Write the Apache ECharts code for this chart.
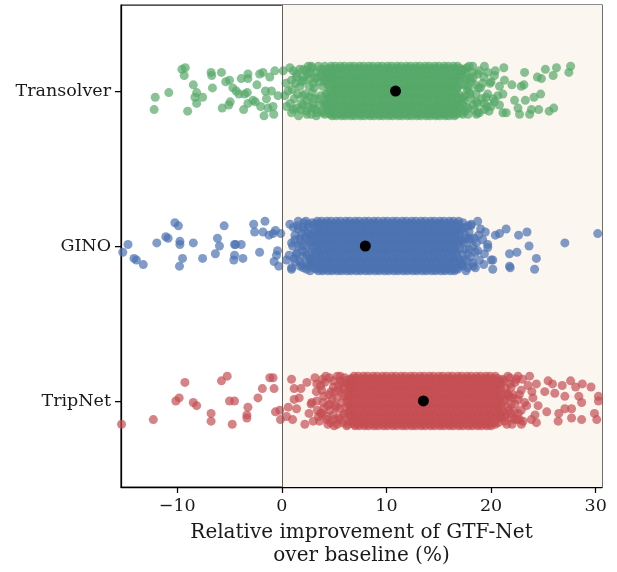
<!DOCTYPE html>
<html><head><meta charset="utf-8">
<script src="https://cdn.jsdelivr.net/npm/echarts@6/dist/echarts.min.js"></script>
<style>html,body{margin:0;padding:0;background:#fff}#c{width:617px;height:572px}</style>
</head><body><div id="c"></div>
<script>
const categories = ['Transolver', 'GINO', 'TripNet'];
const colors = ['#55a868', '#4c72b0', '#c44e52'];
const means = [10.87, 7.98, 13.53];
const xTicks = [-10, 0, 10, 20, 30];
const yTicks = [0, 1, 2];
const xMin = -15.37, xMax = 30.6;
const yMin = -0.555, yMax = 2.555;
const axisTitle = 'Relative improvement of GTF-Net\nover baseline (%)';

// Scattered points: [value, jitter offset]
const transolverPts = [
[-15.4,0.09],[-12.1,0.04],[-12.2,0.12],[-10.8,0.01],[-9.55,-0.14],[-9.23,-0.15],[-9.33,-0.10],[-9.0,0.13],[-8.46,-0.04],[-8.14,0.01],[-8.3,0.04],[-7.57,0.04],[-8.14,0.08],[-6.76,-0.12],[-6.7,-0.10],[-5.77,-0.12],[-6.63,-0.02],[-5.36,-0.06],[-5.0,-0.07],[-5.7,0.11],[-5.07,0.09],[-4.93,0.07],[-4.68,-0.02],[-4.36,0.0],[-4.1,0.02],[-3.88,-0.08],[-3.24,-0.11],[-3.24,-0.08],[-3.56,0.02],[-3.3,0.01],[-3.65,0.12],[-3.24,0.08],[-2.76,0.06],[-2.53,0.07],[-2.38,-0.04],[-2.12,-0.11],[-1.8,-0.12],[-1.57,0.0],[-0.99,0.0],[-1.15,-0.09],[-1.47,0.05],[-2.02,0.10],[-1.7,0.16],[-1.32,0.11],[-0.77,0.15],[-0.84,0.10],[-0.67,-0.13],[-0.36,0.03],
[0.13,-0.13],[0.29,0.03],[0.77,-0.15],[1.09,-0.13],[0.93,-0.07],[1.41,-0.11],[1.73,-0.03],[2.05,-0.14],[2.53,-0.16],[2.69,-0.08],[0.45,0.10],[0.93,0.14],[1.41,0.11],[2.05,0.09],[2.69,0.04],[0.6,0.0],[1.2,0.05],[1.9,-0.06],[2.3,0.13],[1.6,0.16],[2.2,0.02],[0.4,-0.05],[1.0,-0.01],
[2.9,-0.15],[3.3,-0.12],[3.6,-0.06],[3.1,-0.02],[3.5,0.05],[3.0,0.09],[3.8,0.13],[2.8,0.15],[3.9,-0.09],[4.1,-0.16],[4.2,0.02],[3.7,-0.14],[4.0,0.08],[2.6,-0.03],[2.4,0.06],[3.3,0.16],[1.3,-0.05],[0.8,0.08],[1.8,0.12],[2.0,-0.09],[2.9,0.11],[3.4,-0.09],[4.1,0.15],[2.5,-0.11],[1.5,0.02],
[1.7,-0.14],[2.1,-0.07],[2.4,0.15],[2.7,-0.12],[2.9,0.01],[3.2,0.12],[3.5,-0.16],[3.6,0.09],[3.9,-0.03],[4.0,0.14],[4.2,-0.11],[4.3,0.06],[3.2,-0.08],[2.6,0.10],[1.9,0.08],[2.3,-0.13],[3.0,-0.05],[3.7,0.03],[4.1,-0.06],[2.0,0.03],[1.4,-0.09],[1.1,0.12],[3.4,0.14],[2.8,-0.16],[3.8,-0.11],[4.4,0.12],[4.0,-0.14],[3.1,0.05],
[17.2,-0.13],[17.4,0.06],[17.6,-0.07],[17.8,0.11],[17.9,0.0],[18.2,-0.12],[18.3,0.09],[18.5,-0.04],[18.7,0.14],[19.1,0.05],[19.3,-0.09],[19.6,0.10],[17.3,0.15],[17.7,-0.15],[18.0,-0.08],[18.8,-0.02],[19.9,-0.05],[20.2,0.05],[17.5,0.03],[18.6,0.07],
[18.24,-0.16],[19.36,-0.16],[21.22,-0.15],[18.72,-0.11],[19.68,-0.12],[20.32,-0.10],[19.2,-0.05],[20.0,-0.06],[20.8,-0.03],[21.28,-0.07],[18.56,0.02],[19.68,0.02],[20.64,0.03],[21.13,0.02],[18.72,0.08],[19.36,0.08],[20.0,0.10],[18.88,0.14],[19.36,0.12],[20.32,0.07],[20.8,0.09],[17.76,-0.03],[17.6,0.10],[18.08,0.05],[17.4,-0.14],[17.5,-0.09],[17.8,0.15],[17.3,0.04],[18.1,-0.06],[17.6,-0.12],[18.4,0.12],
[17.2,0.08],[17.9,-0.16],[18.3,-0.09],[18.6,0.15],[19.0,-0.02],[17.5,0.13],[18.0,0.02],[18.9,-0.13],[19.8,0.13],[17.7,-0.01],[20.4,-0.13],[19.5,0.04],
[23.2,-0.12],[24.42,-0.09],[24.81,-0.08],[25.19,-0.14],[25.93,-0.10],[26.25,-0.15],[27.43,-0.12],[27.6,-0.16],[21.99,-0.04],[23.14,-0.04],[22.88,-0.03],[22.24,0.06],[23.27,0.06],[24.1,0.04],[24.74,0.02],[21.13,0.14],[21.44,0.14],[22.57,0.11],[22.72,0.15],[23.85,0.12],[23.68,0.15],[24.55,0.12],[25.55,0.13],[25.99,0.11]
];
// Dense middle of each strip: [jitter offset, values along that band]
const transolverCoreRows = [
[-0.16,[4.7,5.1,5.6,6.0,6.5,6.9,7.4,7.8,8.3,8.7,9.2,9.6,10.1,10.5,11.0,11.4,11.9,12.3,12.8,13.2,13.7,14.1,14.6,15.0,15.5,15.9,16.4,16.8]],
[-0.145,[4.5,4.9,5.4,5.8,6.3,6.7,7.2,7.6,8.1,8.5,9.0,9.4,9.9,10.3,10.8,11.2,11.7,12.1,12.6,13.0,13.5,13.9,14.4,14.8,15.3,15.7,16.2,16.6,17.0]],
[-0.13,[4.3,4.8,5.2,5.7,6.1,6.6,7.0,7.5,7.9,8.4,8.8,9.3,9.7,10.2,10.6,11.1,11.5,12.0,12.4,12.9,13.3,13.8,14.2,14.7,15.1,15.6,16.0,16.5,16.9,17.3]],
[-0.10,[4.5,5.0,5.4,5.9,6.3,6.8,7.2,7.7,8.1,8.6,9.0,9.5,9.9,10.4,10.8,11.3,11.7,12.2,12.6,13.1,13.5,14.0,14.4,14.9,15.3,15.8,16.2,16.7,17.1]],
[-0.085,[4.4,4.8,5.3,5.7,6.2,6.6,7.1,7.5,8.0,8.4,8.9,9.3,9.8,10.2,10.7,11.1,11.6,12.0,12.5,12.9,13.4,13.8,14.3,14.7,15.2,15.6,16.1,16.5,16.9]],
[-0.07,[4.2,4.7,5.1,5.6,6.0,6.5,6.9,7.4,7.8,8.3,8.7,9.2,9.6,10.1,10.5,11.0,11.4,11.9,12.3,12.8,13.2,13.7,14.1,14.6,15.0,15.5,15.9,16.4,16.8]],
[-0.04,[4.4,4.9,5.3,5.8,6.2,6.7,7.1,7.6,8.0,8.5,8.9,9.4,9.8,10.3,10.7,11.2,11.6,12.1,12.5,13.0,13.4,13.9,14.3,14.8,15.2,15.7,16.1,16.6,17.0,17.4]],
[-0.025,[4.6,5.1,5.5,6.0,6.4,6.9,7.3,7.8,8.2,8.7,9.1,9.6,10.0,10.5,10.9,11.4,11.8,12.3,12.7,13.2,13.6,14.1,14.5,15.0,15.4,15.9,16.3,16.8]],
[-0.01,[4.6,5.0,5.5,5.9,6.4,6.8,7.3,7.7,8.2,8.6,9.1,9.5,10.0,10.4,10.9,11.3,11.8,12.2,12.7,13.1,13.6,14.0,14.5,14.9,15.4,15.8,16.3,16.7]],
[0.02,[4.3,4.8,5.2,5.7,6.1,6.6,7.0,7.5,7.9,8.4,8.8,9.3,9.7,10.2,10.6,11.1,11.5,12.0,12.4,12.9,13.3,13.8,14.2,14.7,15.1,15.6,16.0,16.5,16.9]],
[0.035,[4.5,5.0,5.4,5.9,6.3,6.8,7.2,7.7,8.1,8.6,9.0,9.5,9.9,10.4,10.8,11.3,11.7,12.2,12.6,13.1,13.5,14.0,14.4,14.9,15.3,15.8,16.2,16.7]],
[0.05,[4.5,5.0,5.4,5.9,6.3,6.8,7.2,7.7,8.1,8.6,9.0,9.5,9.9,10.4,10.8,11.3,11.7,12.2,12.6,13.1,13.5,14.0,14.4,14.9,15.3,15.8,16.2,16.7,17.2]],
[0.08,[4.2,4.7,5.1,5.6,6.0,6.5,6.9,7.4,7.8,8.3,8.7,9.2,9.6,10.1,10.5,11.0,11.4,11.9,12.3,12.8,13.2,13.7,14.1,14.6,15.0,15.5,15.9,16.4,16.8]],
[0.095,[4.3,4.8,5.2,5.7,6.1,6.6,7.0,7.5,7.9,8.4,8.8,9.3,9.7,10.2,10.6,11.1,11.5,12.0,12.4,12.9,13.3,13.8,14.2,14.7,15.1,15.6,16.0,16.5,16.9]],
[0.11,[4.4,4.9,5.3,5.8,6.2,6.7,7.1,7.6,8.0,8.5,8.9,9.4,9.8,10.3,10.7,11.2,11.6,12.1,12.5,13.0,13.4,13.9,14.3,14.8,15.2,15.7,16.1,16.6,17.0]],
[0.14,[4.6,5.0,5.5,5.9,6.4,6.8,7.3,7.7,8.2,8.6,9.1,9.5,10.0,10.4,10.9,11.3,11.8,12.2,12.7,13.1,13.6,14.0,14.5,14.9,15.4,15.8,16.3,16.7,17.1]],
[0.15,[4.6,5.0,5.5,5.9,6.4,6.8,7.3,7.7,8.2,8.6,9.1,9.5,10.0,10.4,10.9,11.3,11.8,12.2,12.7,13.1,13.6,14.0,14.5,14.9,15.4,15.8,16.3,16.7]],
[0.16,[4.8,5.2,5.7,6.1,6.6,7.0,7.5,7.9,8.4,8.8,9.3,9.7,10.2,10.6,11.1,11.5,12.0,12.4,12.9,13.3,13.8,14.2,14.7,15.1,15.6,16.0,16.5]]
];

const ginoPts = [
[-15.2,0.04],[-14.7,-0.01],[-14.13,0.08],[-13.9,0.09],[-13.24,0.12],[-11.95,-0.02],[-11.09,-0.06],[-10.87,-0.05],[-10.22,-0.15],[-9.88,-0.13],[-9.74,-0.03],[-9.74,-0.01],[-9.49,0.08],[-9.78,0.13],[-8.46,-0.02],[-7.57,0.08],[-6.35,0.05],[-6.15,-0.05],[-5.96,0.0],[-5.51,-0.13],[-4.52,-0.01],[-4.42,-0.01],[-3.88,-0.01],[-4.52,0.06],[-4.59,0.09],[-3.72,0.08],[-2.69,-0.14],[-2.6,-0.09],[-1.61,-0.16],[-1.8,-0.09],[-1.22,-0.07],[-0.84,-0.08],[-0.61,-0.10],[-0.1,-0.08],[-2.12,0.04],[-0.41,0.03],[-0.51,0.06],[-0.74,0.10],[-0.29,0.13],
[0.45,0.09],[0.77,-0.14],[0.93,0.15],[1.25,-0.04],[1.57,-0.11],[1.89,-0.08],[1.41,0.05],[1.73,0.10],[2.05,0.14],[2.37,0.0],[2.53,-0.12],[2.69,0.08],[1.03,0.0],[2.21,-0.05],[2.4,0.12],[2.1,-0.15],
[1.57,-0.16],[2.05,-0.12],[2.53,-0.14],[1.25,-0.07],[1.73,-0.05],[2.37,-0.06],[0.93,-0.02],[1.89,0.0],[2.69,-0.01],[1.41,0.05],[2.05,0.07],[2.69,0.09],[0.93,0.14],[1.73,0.13],[2.37,0.15],[1.25,0.10],[3.0,0.14],[2.85,0.04],[2.21,0.04],
[1.2,0.08],[1.5,-0.13],[1.9,0.12],[2.2,-0.10],[2.4,0.06],[2.6,-0.03],[2.8,0.11],[2.9,-0.15],[2.7,0.16],[2.3,-0.16],[1.6,0.0],[2.0,0.03],[2.5,-0.08],[2.8,-0.07],[2.6,0.13],[1.8,-0.03],[1.1,-0.12],[0.7,0.06],
[17.3,0.06],[17.5,-0.08],[17.7,0.10],[17.9,0.02],[18.1,-0.14],[18.3,0.13],[17.4,-0.02],[18.0,-0.05],[18.5,0.04],[17.6,0.16],[18.8,-0.07],[17.2,-0.11],
[17.43,-0.12],[17.76,0.05],[17.6,-0.05],[18.24,0.0],[18.72,0.03],[19.2,-0.04],[19.36,0.05],[19.68,-0.01],[18.88,0.09],[18.4,-0.05],[17.28,0.13],
[17.3,-0.15],[17.5,0.02],[17.9,-0.09],[18.1,0.07],[17.4,0.09],[18.5,0.14],[19.0,-0.11],[18.6,-0.02],[17.8,-0.13],[19.3,0.12],[17.2,-0.03],
[18.72,-0.16],[18.08,-0.13],[19.45,-0.09],[20.8,-0.08],[21.44,-0.11],[20.41,-0.07],[22.63,-0.07],[23.43,-0.09],[27.05,-0.02],[30.19,-0.08],[17.86,-0.04],[19.68,0.01],[21.76,0.05],[22.47,0.04],[23.63,0.0],[24.33,0.08],[20.16,0.09],[20.0,0.09],[20.16,0.15],[21.76,0.13],[21.83,0.14],[24.16,0.15],[17.76,0.14],[18.24,0.11],[17.12,0.12]
];
const ginoCoreRows = [
[-0.16,[3.4,3.8,4.3,4.7,5.2,5.6,6.1,6.5,7.0,7.4,7.9,8.3,8.8,9.2,9.7,10.1,10.6,11.0,11.5,11.9,12.4,12.8,13.3,13.7,14.2,14.6,15.1,15.5,16.0,16.4,16.9]],
[-0.145,[3.2,3.6,4.1,4.5,5.0,5.4,5.9,6.3,6.8,7.2,7.7,8.1,8.6,9.0,9.5,9.9,10.4,10.8,11.3,11.7,12.2,12.6,13.1,13.5,14.0,14.4,14.9,15.3,15.8,16.2,16.7]],
[-0.13,[3.0,3.5,3.9,4.4,4.8,5.3,5.7,6.2,6.6,7.1,7.5,8.0,8.4,8.9,9.3,9.8,10.2,10.7,11.1,11.6,12.0,12.5,12.9,13.4,13.8,14.3,14.7,15.2,15.6,16.1,16.5,17.0]],
[-0.10,[3.2,3.7,4.1,4.6,5.0,5.5,5.9,6.4,6.8,7.3,7.7,8.2,8.6,9.1,9.5,10.0,10.4,10.9,11.3,11.8,12.2,12.7,13.1,13.6,14.0,14.5,14.9,15.4,15.8,16.3,16.7]],
[-0.085,[3.1,3.5,4.0,4.4,4.9,5.3,5.8,6.2,6.7,7.1,7.6,8.0,8.5,8.9,9.4,9.8,10.3,10.7,11.2,11.6,12.1,12.5,13.0,13.4,13.9,14.3,14.8,15.2,15.7,16.1,16.6,17.0]],
[-0.07,[2.9,3.4,3.8,4.3,4.7,5.2,5.6,6.1,6.5,7.0,7.4,7.9,8.3,8.8,9.2,9.7,10.1,10.6,11.0,11.5,11.9,12.4,12.8,13.3,13.7,14.2,14.6,15.1,15.5,16.0,16.4,16.9]],
[-0.04,[3.1,3.6,4.0,4.5,4.9,5.4,5.8,6.3,6.7,7.2,7.6,8.1,8.5,9.0,9.4,9.9,10.3,10.8,11.2,11.7,12.1,12.6,13.0,13.5,13.9,14.4,14.8,15.3,15.7,16.2,16.6,17.1]],
[-0.025,[3.0,3.4,3.9,4.3,4.8,5.2,5.7,6.1,6.6,7.0,7.5,7.9,8.4,8.8,9.3,9.7,10.2,10.6,11.1,11.5,12.0,12.4,12.9,13.3,13.8,14.2,14.7,15.1,15.6,16.0,16.5,16.9]],
[-0.01,[3.3,3.7,4.2,4.6,5.1,5.5,6.0,6.4,6.9,7.3,7.8,8.2,8.7,9.1,9.6,10.0,10.5,10.9,11.4,11.8,12.3,12.7,13.2,13.6,14.1,14.5,15.0,15.4,15.9,16.3,16.8]],
[0.02,[3.0,3.5,3.9,4.4,4.8,5.3,5.7,6.2,6.6,7.1,7.5,8.0,8.4,8.9,9.3,9.8,10.2,10.7,11.1,11.6,12.0,12.5,12.9,13.4,13.8,14.3,14.7,15.2,15.6,16.1,16.5,17.0]],
[0.035,[3.2,3.6,4.1,4.5,5.0,5.4,5.9,6.3,6.8,7.2,7.7,8.1,8.6,9.0,9.5,9.9,10.4,10.8,11.3,11.7,12.2,12.6,13.1,13.5,14.0,14.4,14.9,15.3,15.8,16.2,16.7]],
[0.05,[3.2,3.7,4.1,4.6,5.0,5.5,5.9,6.4,6.8,7.3,7.7,8.2,8.6,9.1,9.5,10.0,10.4,10.9,11.3,11.8,12.2,12.7,13.1,13.6,14.0,14.5,14.9,15.4,15.8,16.3,16.7]],
[0.08,[2.9,3.4,3.8,4.3,4.7,5.2,5.6,6.1,6.5,7.0,7.4,7.9,8.3,8.8,9.2,9.7,10.1,10.6,11.0,11.5,11.9,12.4,12.8,13.3,13.7,14.2,14.6,15.1,15.5,16.0,16.4,16.9]],
[0.095,[3.0,3.5,3.9,4.4,4.8,5.3,5.7,6.2,6.6,7.1,7.5,8.0,8.4,8.9,9.3,9.8,10.2,10.7,11.1,11.6,12.0,12.5,12.9,13.4,13.8,14.3,14.7,15.2,15.6,16.1,16.5,17.0]],
[0.11,[3.1,3.6,4.0,4.5,4.9,5.4,5.8,6.3,6.7,7.2,7.6,8.1,8.5,9.0,9.4,9.9,10.3,10.8,11.2,11.7,12.1,12.6,13.0,13.5,13.9,14.4,14.8,15.3,15.7,16.2,16.6,17.1]],
[0.14,[3.3,3.7,4.2,4.6,5.1,5.5,6.0,6.4,6.9,7.3,7.8,8.2,8.7,9.1,9.6,10.0,10.5,10.9,11.4,11.8,12.3,12.7,13.2,13.6,14.1,14.5,15.0,15.4,15.9,16.3,16.8]],
[0.15,[3.3,3.8,4.2,4.7,5.1,5.6,6.0,6.5,6.9,7.4,7.8,8.3,8.7,9.2,9.6,10.1,10.5,11.0,11.4,11.9,12.3,12.8,13.2,13.7,14.1,14.6,15.0,15.5,15.9,16.4,16.8]],
[0.16,[3.5,3.9,4.4,4.8,5.3,5.7,6.2,6.6,7.1,7.5,8.0,8.4,8.9,9.3,9.8,10.2,10.7,11.1,11.6,12.0,12.5,12.9,13.4,13.8,14.3,14.7,15.2,15.6,16.1,16.5]]
];

const tripnetPts = [
[-15.32,0.15],[-12.28,0.12],[-10.13,0.0],[-9.81,-0.02],[-9.26,-0.12],[-8.46,0.01],[-8.14,0.03],[-6.76,0.08],[-6.76,0.13],[-5.77,-0.13],[-5.22,-0.16],[-5.0,0.0],[-4.52,0.0],[-4.74,0.15],[-3.24,0.04],[-3.34,0.09],[-3.34,0.11],[-2.28,-0.02],[-1.86,-0.08],[-1.15,-0.15],[-0.84,-0.15],[-0.74,-0.08],[-0.61,0.07],[-0.19,0.06],[-0.13,0.12],
[0.93,-0.14],[1.18,-0.08],[1.83,-0.08],[1.18,-0.01],[1.66,-0.02],[0.61,0.04],[1.41,0.05],[0.45,0.10],[1.03,0.12],[3.17,-0.15],[4.55,-0.15],[5.58,-0.16],[3.34,0.0],[3.72,0.08],[4.68,0.14],[2.4,-0.12],[2.8,0.02],[3.0,0.13],[2.6,0.08],[3.3,-0.06],[2.2,0.15],
[3.34,-0.11],[3.82,-0.07],[4.93,-0.09],[6.22,-0.11],[5.26,-0.02],[3.97,0.01],[6.22,0.0],[3.82,0.08],[4.6,0.06],[5.42,0.11],[5.89,0.09],[6.54,0.06],[6.38,0.13],[4.93,0.09],[6.54,-0.06],[5.74,0.01],[5.1,-0.06],[4.3,0.10],[3.4,0.06],[2.86,0.01],[4.5,-0.04],[5.6,-0.13],[6.0,-0.03],[6.3,0.15],[5.3,0.15],[4.1,-0.12],[4.4,0.03],[5.0,0.12],[5.9,-0.08],[3.6,0.13],[6.5,-0.14],[4.8,-0.01],[5.5,0.05],[6.1,0.04],[3.9,-0.14],[5.8,0.14],
[4.2,-0.16],[4.9,-0.13],[5.4,-0.10],[6.0,-0.15],[6.4,-0.09],[4.7,-0.06],[5.8,-0.05],[6.3,-0.02],[4.0,-0.03],[4.6,0.02],[5.2,0.04],[6.0,0.08],[6.6,0.10],[5.6,0.12],[4.4,0.15],[5.0,0.16],[5.7,-0.11],[6.2,0.16],[3.7,-0.10],[4.3,0.12],[5.3,-0.16],[6.6,-0.11],[6.1,-0.13],[5.1,0.03],[4.0,0.05],[6.4,0.03],[5.5,-0.07],[3.5,0.10],
[21.1,-0.14],[21.2,0.0],[21.4,-0.08],[21.5,0.15],[21.7,0.06],[21.8,-0.11],[22.0,-0.02],[22.2,0.12],[22.4,-0.14],[21.3,0.10],[21.6,-0.04],[22.7,-0.04],[21.0,0.04],[21.9,0.08],[22.3,0.02],
[21.6,-0.16],[22.57,-0.16],[21.92,-0.09],[22.88,-0.07],[23.53,-0.10],[21.76,-0.03],[22.57,-0.01],[23.2,0.01],[24.0,-0.02],[22.24,0.07],[21.92,0.11],[22.72,0.12],[21.6,0.04],[21.28,0.13],[20.96,-0.11],[21.13,0.07],
[21.2,-0.13],[21.5,-0.05],[21.9,0.02],[22.3,-0.12],[22.0,0.15],[21.4,0.09],[22.6,0.08],[23.0,-0.14],[23.4,0.03],[21.8,-0.15],[22.9,0.15],[23.9,-0.06],[21.3,-0.01],[22.1,-0.04],[24.2,0.09],
[23.68,-0.16],[24.33,-0.11],[25.45,-0.13],[25.87,-0.11],[26.8,-0.10],[27.6,-0.13],[28.08,-0.09],[28.72,-0.11],[29.55,-0.09],[30.64,-0.10],[25.13,-0.06],[26.09,-0.05],[27.05,-0.03],[28.39,-0.03],[30.26,-0.03],[30.26,0.0],[28.65,0.01],[27.05,0.05],[27.69,0.05],[26.47,0.08],[25.32,0.07],[24.49,0.03],[22.88,0.06],[23.85,0.12],[24.33,0.14],[26.41,0.13],[27.69,0.11],[28.65,0.12],[29.88,0.08],[30.1,0.12],[23.05,0.13],[22.5,0.12]
];
const tripnetCoreRows = [
[-0.16,[6.9,7.3,7.8,8.2,8.7,9.1,9.6,10.0,10.5,10.9,11.4,11.8,12.3,12.7,13.2,13.6,14.1,14.5,15.0,15.4,15.9,16.3,16.8,17.2,17.7,18.1,18.6,19.0,19.5,19.9,20.4]],
[-0.145,[6.7,7.1,7.6,8.0,8.5,8.9,9.4,9.8,10.3,10.7,11.2,11.6,12.1,12.5,13.0,13.4,13.9,14.3,14.8,15.2,15.7,16.1,16.6,17.0,17.5,17.9,18.4,18.8,19.3,19.7,20.2,20.6]],
[-0.13,[6.5,7.0,7.4,7.9,8.3,8.8,9.2,9.7,10.1,10.6,11.0,11.5,11.9,12.4,12.8,13.3,13.7,14.2,14.6,15.1,15.5,16.0,16.4,16.9,17.3,17.8,18.2,18.7,19.1,19.6,20.0,20.5,20.9]],
[-0.10,[6.7,7.2,7.6,8.1,8.5,9.0,9.4,9.9,10.3,10.8,11.2,11.7,12.1,12.6,13.0,13.5,13.9,14.4,14.8,15.3,15.7,16.2,16.6,17.1,17.5,18.0,18.4,18.9,19.3,19.8,20.2,20.7]],
[-0.085,[6.6,7.0,7.5,7.9,8.4,8.8,9.3,9.7,10.2,10.6,11.1,11.5,12.0,12.4,12.9,13.3,13.8,14.2,14.7,15.1,15.6,16.0,16.5,16.9,17.4,17.8,18.3,18.7,19.2,19.6,20.1,20.5,20.9]],
[-0.07,[6.4,6.9,7.3,7.8,8.2,8.7,9.1,9.6,10.0,10.5,10.9,11.4,11.8,12.3,12.7,13.2,13.6,14.1,14.5,15.0,15.4,15.9,16.3,16.8,17.2,17.7,18.1,18.6,19.0,19.5,19.9,20.4,20.8]],
[-0.04,[6.6,7.1,7.5,8.0,8.4,8.9,9.3,9.8,10.2,10.7,11.1,11.6,12.0,12.5,12.9,13.4,13.8,14.3,14.7,15.2,15.6,16.1,16.5,17.0,17.4,17.9,18.3,18.8,19.2,19.7,20.1,20.6,21.0]],
[-0.025,[6.5,6.9,7.4,7.8,8.3,8.7,9.2,9.6,10.1,10.5,11.0,11.4,11.9,12.3,12.8,13.2,13.7,14.1,14.6,15.0,15.5,15.9,16.4,16.8,17.3,17.7,18.2,18.6,19.1,19.5,20.0,20.4,20.9]],
[-0.01,[6.8,7.2,7.7,8.1,8.6,9.0,9.5,9.9,10.4,10.8,11.3,11.7,12.2,12.6,13.1,13.5,14.0,14.4,14.9,15.3,15.8,16.2,16.7,17.1,17.6,18.0,18.5,18.9,19.4,19.8,20.3,20.7]],
[0.02,[6.5,7.0,7.4,7.9,8.3,8.8,9.2,9.7,10.1,10.6,11.0,11.5,11.9,12.4,12.8,13.3,13.7,14.2,14.6,15.1,15.5,16.0,16.4,16.9,17.3,17.8,18.2,18.7,19.1,19.6,20.0,20.5,20.9]],
[0.035,[6.7,7.1,7.6,8.0,8.5,8.9,9.4,9.8,10.3,10.7,11.2,11.6,12.1,12.5,13.0,13.4,13.9,14.3,14.8,15.2,15.7,16.1,16.6,17.0,17.5,17.9,18.4,18.8,19.3,19.7,20.2,20.6]],
[0.05,[6.7,7.2,7.6,8.1,8.5,9.0,9.4,9.9,10.3,10.8,11.2,11.7,12.1,12.6,13.0,13.5,13.9,14.4,14.8,15.3,15.7,16.2,16.6,17.1,17.5,18.0,18.4,18.9,19.3,19.8,20.2,20.7]],
[0.08,[6.4,6.9,7.3,7.8,8.2,8.7,9.1,9.6,10.0,10.5,10.9,11.4,11.8,12.3,12.7,13.2,13.6,14.1,14.5,15.0,15.4,15.9,16.3,16.8,17.2,17.7,18.1,18.6,19.0,19.5,19.9,20.4,20.8]],
[0.095,[6.5,7.0,7.4,7.9,8.3,8.8,9.2,9.7,10.1,10.6,11.0,11.5,11.9,12.4,12.8,13.3,13.7,14.2,14.6,15.1,15.5,16.0,16.4,16.9,17.3,17.8,18.2,18.7,19.1,19.6,20.0,20.5,20.9]],
[0.11,[6.6,7.1,7.5,8.0,8.4,8.9,9.3,9.8,10.2,10.7,11.1,11.6,12.0,12.5,12.9,13.4,13.8,14.3,14.7,15.2,15.6,16.1,16.5,17.0,17.4,17.9,18.3,18.8,19.2,19.7,20.1,20.6,21.0]],
[0.14,[6.8,7.2,7.7,8.1,8.6,9.0,9.5,9.9,10.4,10.8,11.3,11.7,12.2,12.6,13.1,13.5,14.0,14.4,14.9,15.3,15.8,16.2,16.7,17.1,17.6,18.0,18.5,18.9,19.4,19.8,20.3,20.7]],
[0.15,[6.9,7.3,7.8,8.2,8.7,9.1,9.6,10.0,10.5,10.9,11.4,11.8,12.3,12.7,13.2,13.6,14.1,14.5,15.0,15.4,15.9,16.3,16.8,17.2,17.7,18.1,18.6,19.0,19.5,19.9,20.4]],
[0.16,[7.0,7.4,7.9,8.3,8.8,9.2,9.7,10.1,10.6,11.0,11.5,11.9,12.4,12.8,13.3,13.7,14.2,14.6,15.1,15.5,16.0,16.4,16.9,17.3,17.8,18.2,18.7,19.1,19.6,20.0]]
];

const pointSets = [transolverPts, ginoPts, tripnetPts];
const coreSets = [transolverCoreRows, ginoCoreRows, tripnetCoreRows];
const serif = "'DejaVu Serif', 'Liberation Serif', serif";
const textColor = '#1a1a1a';
const fmtX = v => (v < 0 ? '\u2212' + Math.abs(v) : String(v));

const chart = echarts.init(document.getElementById('c'), null, {renderer: 'canvas'});
const series = [{
  type: 'scatter', data: [], z: 1, silent: true,
  markArea: {silent: true, itemStyle: {color: '#fcf6f0'}, data: [[{xAxis: 0}, {xAxis: xMax}]]},
  markLine: {silent: true, symbol: 'none', label: {show: false}, animation: false,
    lineStyle: {color: '#606060', width: 1, type: 'solid'}, data: [{xAxis: 0}]}
}];
pointSets.forEach((pts, i) => {
  const data = pts.map(p => [p[0], i + p[1]]);
  coreSets[i].forEach(row => row[1].forEach(x => data.push([x, i + row[0]])));
  series.push({
    type: 'scatter', z: 3, symbol: 'circle', symbolSize: 9, large: false,
    itemStyle: {color: colors[i], opacity: 0.7},
    data: data
  });
});
series.push({
  type: 'scatter', z: 5, symbol: 'circle', symbolSize: 11,
  itemStyle: {color: '#000000', opacity: 1},
  data: means.map((m, i) => [m, i])
});

chart.setOption({
  animation: false,
  backgroundColor: '#ffffff',
  grid: {left: 121, right: 15, top: 5, bottom: 85, show: true, borderColor: '#1a1a1a', borderWidth: 1.25, backgroundColor: 'transparent'},
  xAxis: {
    type: 'value', min: xMin, max: xMax,
    splitLine: {show: false},
    axisLine: {show: true, onZero: false, lineStyle: {color: '#000', width: 1.25}},
    axisTick: {show: true, customValues: xTicks, length: 6, lineStyle: {color: '#000', width: 1.25}},
    axisLabel: {customValues: xTicks, formatter: fmtX, fontFamily: serif, fontSize: 17.5, color: textColor, margin: 10},
    name: axisTitle, nameLocation: 'middle', nameGap: 34,
    nameTextStyle: {fontFamily: serif, fontSize: 20, lineHeight: 23, color: textColor, verticalAlign: 'top'}
  },
  yAxis: {
    type: 'value', inverse: true, min: yMin, max: yMax,
    splitLine: {show: false},
    axisLine: {show: true, onZero: false, lineStyle: {color: '#000', width: 1.25}},
    axisTick: {show: true, customValues: yTicks, length: 6, lineStyle: {color: '#000', width: 1.25}},
    axisLabel: {customValues: yTicks, formatter: v => categories[Math.round(v)], fontFamily: serif, fontSize: 17.5, color: textColor, margin: 10}
  },
  series: series
});
</script>
</body></html>
